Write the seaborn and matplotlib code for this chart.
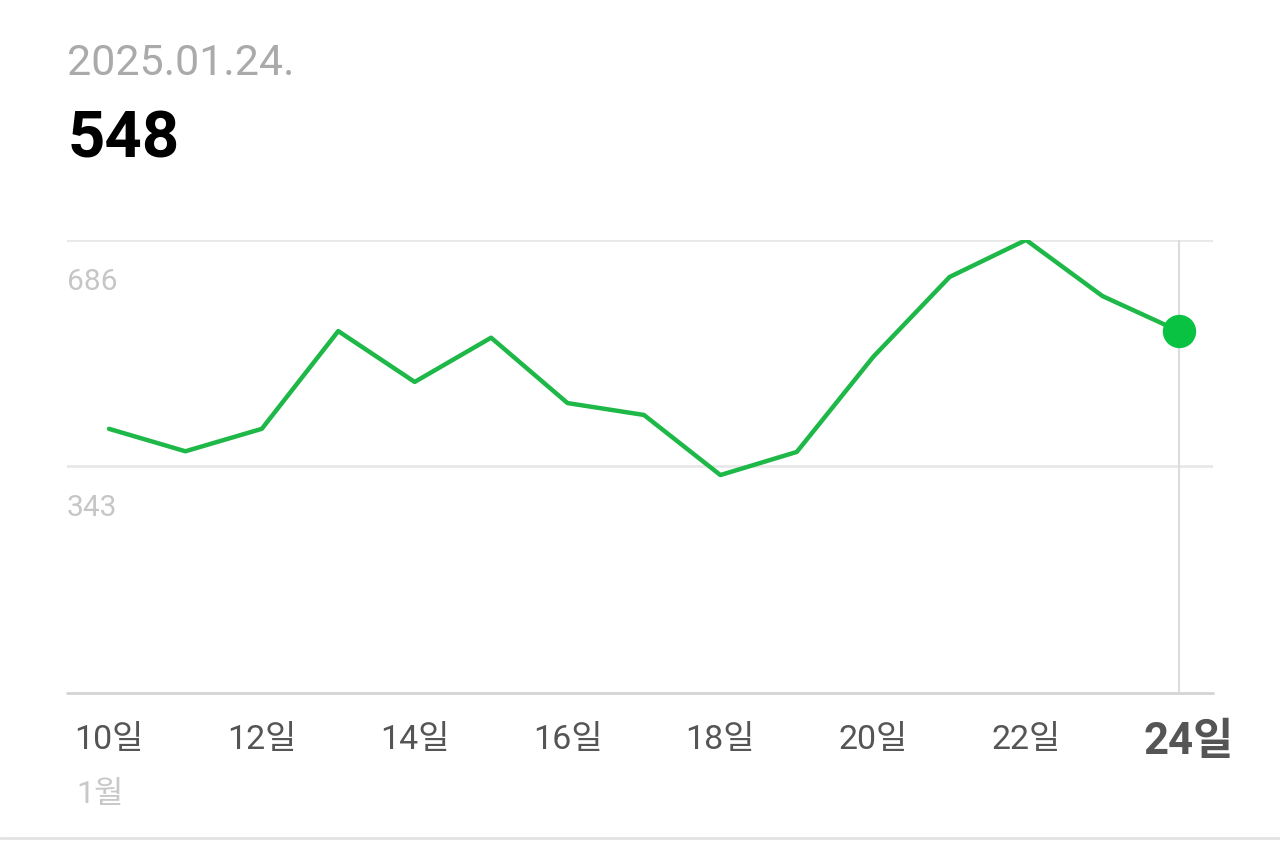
import pandas as pd
import matplotlib.pyplot as plt
import seaborn as sns

# 데이터
days = [10, 11, 12, 13, 14, 15, 16, 17, 18, 19, 20, 21, 22, 23, 24]
values = [400, 366, 400, 548, 471, 538, 439, 421, 330, 365, 509, 630, 686, 601, 548]
y_ticks = [343, 686]
x_ticks = [10, 12, 14, 16, 18, 20, 22, 24]
x_labels = ['10일', '12일', '14일', '16일', '18일', '20일', '22일', '24일']
date_text = '2025.01.24.'
month_text = '1월'

sns.set_style('white')
plt.rcParams['font.family'] = ['Roboto', 'Noto Sans CJK KR', 'DejaVu Sans']

df = pd.DataFrame({'day': days, 'value': values})

fig = plt.figure(figsize=(12.8, 8.57), dpi=100)
ax = fig.add_axes([0.0523, 0.1914, 0.8953, 0.5286])

ax.axhline(y_ticks[1], color='#e8e8e8', lw=2, zorder=0)
ax.axhline(y_ticks[0], color='#e8e8e8', lw=2, zorder=0)
ax.axhline(0, color='#d4d4d4', lw=2, zorder=0, clip_on=False)
ax.axvline(days[-1], color='#dcdcdc', lw=1.5, zorder=0)

sns.lineplot(data=df, x='day', y='value', ax=ax, color='#1db847', lw=3.2)
ax.plot(days[-1], values[-1], 'o', color='#0ac242', markersize=23, zorder=5, clip_on=False)

ax.set_xlim(9.45, 24.445)
ax.set_ylim(0, 686)
for s in ax.spines.values():
    s.set_visible(False)
ax.set_xlabel('')
ax.set_ylabel('')
ax.set_yticks([])
ax.set_xticks(x_ticks)
# 마지막 라벨은 굵게 따로 그림
ax.set_xticklabels(x_labels[:-1] + [''], fontsize=24.5, color='#555555')
ax.tick_params(axis='x', length=0, pad=22)
ax.annotate(x_labels[-1], xy=(x_ticks[-1], 0), xycoords='data',
            xytext=(7, -44), textcoords='offset points',
            fontsize=31.5, fontweight='bold', color='#555555',
            va='baseline', ha='center')

for v in y_ticks:
    ax.annotate(str(v), xy=(0, v), xycoords=('axes fraction', 'data'),
                xytext=(0, -36), textcoords='offset points',
                fontsize=21.5, color='#c6c6c6', va='baseline', ha='left')

ax.annotate(month_text, xy=(days[0], 0), xycoords='data',
            xytext=(-6.5, -79), textcoords='offset points',
            fontsize=23, color='#c8c8c8', va='baseline', ha='center')

fig.text(0.0523, 0.9125, date_text, fontsize=31, color='#aaaaaa', va='baseline')
fig.text(0.053, 0.8168, str(values[-1]), fontsize=47, color='black',
         fontweight='bold', va='baseline')

fig.add_artist(plt.Line2D([0, 1], [1 - 838 / 857, 1 - 838 / 857],
                          color='#e2e2e2', lw=2))

plt.savefig('out.png', dpi=100)
